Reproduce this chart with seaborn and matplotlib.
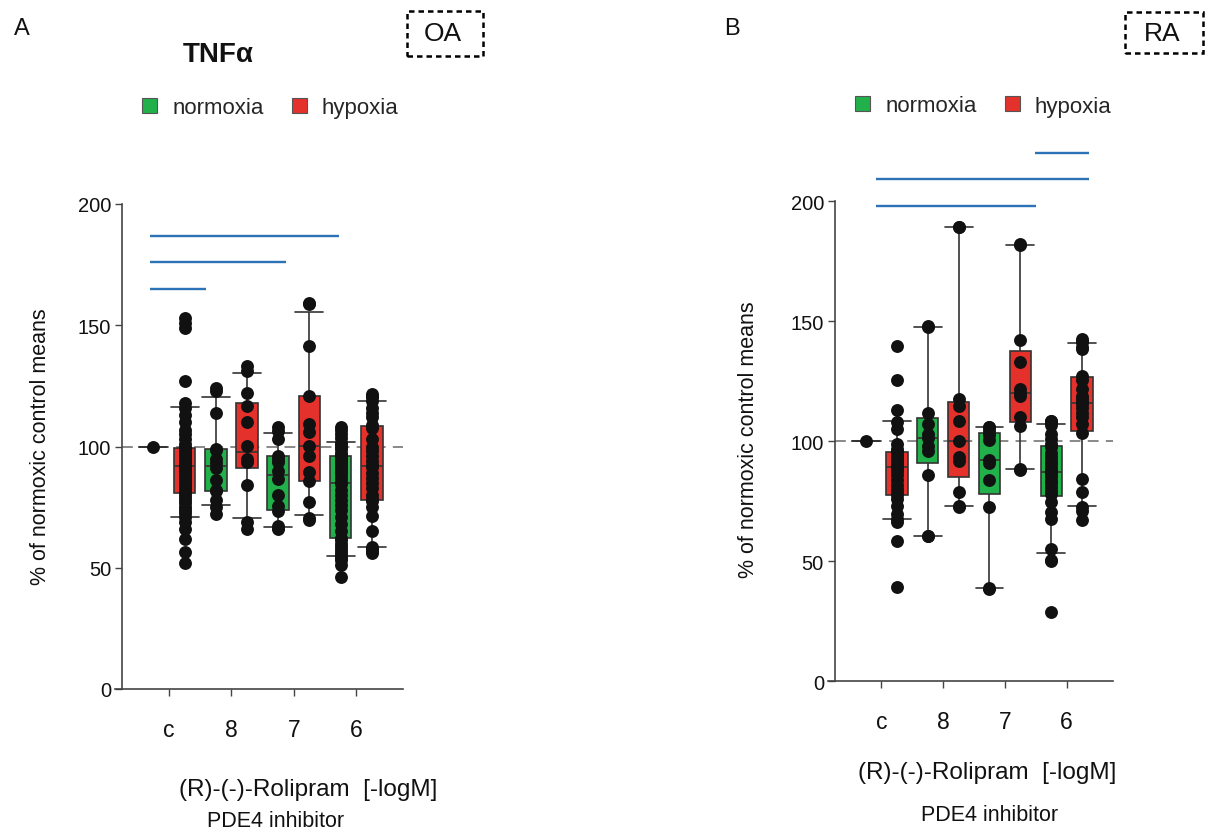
import numpy as np
import pandas as pd
import matplotlib
matplotlib.use("Agg")
import matplotlib.pyplot as plt
import seaborn as sns
from matplotlib.patches import Patch, Rectangle

# ---------------- data ----------------
group_ids = ["c-N", "c-H", "8-N", "8-H", "7-N", "7-H", "6-N", "6-H"]
group_conditions = ["normoxia", "hypoxia"] * 4
tick_labels = ["c", "8", "7", "6"]
conditions = ["normoxia", "hypoxia"]

# Panel A (OA)
oa_c_norm = [100]
oa_c_hyp = [52, 56.4, 62, 66, 69, 71, 72.5, 74, 75, 76.5, 78, 79, 80.5,
            81.5, 82.5, 83.5, 84.5, 85.5, 86.5, 87.5, 88.5, 89.5, 90.5, 91, 92,
            92, 93, 93.5, 94, 95, 95.5, 96, 97, 97.5, 98, 99, 99.5, 99.5,
            101, 103, 105, 107, 110, 113, 116, 118, 127, 149, 151, 153]
oa_8_norm = [72, 75, 78, 81.5, 82, 86, 91, 93, 95, 98.5, 99, 114, 123, 124]
oa_8_hyp = [66, 68.9, 84, 93.5, 94, 95, 100.4, 110, 116.5, 122.1, 131.3, 133.4]
oa_7_norm = [65.8, 66.5, 67.2, 73.5, 75.5, 80, 86.5, 90, 93.5, 95, 96.2, 103, 106.5, 108]
oa_7_hyp = [69.5, 70.5, 77, 85.8, 89.4, 96, 100.4, 105.9, 109.3, 120.8, 141.4, 158.9, 159.2]
oa_6_norm = [46, 51, 53, 54.2, 54.8, 56, 57.5, 58.5, 60, 61.5, 62.3, 65, 68, 71, 74,
             76, 78, 80, 82, 84.5, 85.3, 87, 88.5, 90, 91, 92, 93, 94, 95, 95.7,
             96.5, 97.5, 99, 100, 101, 101.6, 103.5, 105, 107, 108]
oa_6_hyp = [56, 57, 57.8, 58.6, 65, 71.5, 75, 77.5, 78.5, 80, 83, 85, 87, 89, 91.4,
            92.4, 94, 96, 98, 100, 103, 107.5, 108.7, 112, 114, 116, 118.6, 120.6,
            121, 121.5]
# significance bars A: (start, end, height)
oa_sig_start = [-0.1, -0.1, -0.1]
oa_sig_end = [5.95, 4.25, 1.68]
oa_sig_y = [186.9, 175.9, 164.9]

# Panel B (RA)
ra_c_norm = [100]
ra_c_hyp = [39.2, 58.6, 66.2, 67.8, 69.7, 73, 76, 77.5, 78.7, 80, 82, 84, 86, 87.5,
            89, 89.8, 90.5, 91.5, 92.5, 93.5, 94.5, 95.3, 95.8, 97, 99, 105.2,
            108.1, 113.1, 125.7, 139.9]
ra_8_norm = [60.5, 60.7, 86.1, 96, 98, 101.2, 103, 107.2, 112, 147.5, 148]
ra_8_hyp = [72.7, 72.9, 78.8, 91.8, 93.3, 100.3, 108.6, 114.8, 117.8, 189.2, 189.5]
ra_7_norm = [38.6, 38.75, 72.5, 84, 91, 92.1, 100.6, 102.5, 104.1, 105.8, 106]
ra_7_hyp = [88.1, 88.3, 106.5, 110, 119, 120.1, 121.8, 132.9, 142.1, 181.9, 182.1]
ra_6_norm = [29, 50.2, 50.4, 55, 67.6, 70.4, 74.6, 78.2, 79.5, 81, 82.5, 84, 85.5,
             86.6, 87.6, 89, 90.5, 92, 93.5, 95, 97.6, 98.8, 101, 103, 106.9, 108.2,
             108.4, 108.6]
ra_6_hyp = [67.4, 71.1, 72.5, 78.8, 84.3, 103.5, 107.1, 110, 112, 114, 115.5, 116.5,
            117.5, 119, 121.8, 125.5, 127.1, 138.5, 139.1, 141.2, 142, 142.6]
ra_sig_start = [5.48, 0.34, 0.34]
ra_sig_end = [7.22, 7.22, 5.5]
ra_sig_y = [220.1, 209.2, 198.0]

# ---------------- style ----------------
sns.set_style("ticks")
plt.rcParams["font.family"] = ["Liberation Sans", "DejaVu Sans"]

GREEN = "#22b04b"
RED = "#e5312b"
BLUE = "#2b73b6"
EDGE = "#333333"
palette = {"normoxia": GREEN, "hypoxia": RED}

W, H = 1208, 837
fig = plt.figure(figsize=(W / 100, H / 100), dpi=100)
fig.patch.set_facecolor("white")


def fbox(x0, x1, ytop, ybot):
    return [x0 / W, 1 - ybot / H, (x1 - x0) / W, (ybot - ytop) / H]


def make_df(values):
    return pd.DataFrame({
        "group": np.repeat(group_ids, [len(v) for v in values]),
        "condition": np.repeat(group_conditions, [len(v) for v in values]),
        "value": np.concatenate([np.asarray(v, float) for v in values]),
    })


def draw_panel(ax, values, sig_start, sig_end, sig_y):
    df = make_df(values)
    # 10th / 90th percentile whiskers (GraphPad style), computed from the data
    pct = {i: (np.percentile(v, 10), np.percentile(v, 90), np.median(v))
           for i, v in enumerate(values)}
    ax.plot([-1.0, 8.0], [100, 100], color="#808080", lw=1.3,
            ls=(0, (6, 4)), zorder=1.5)
    n0 = len(ax.lines)
    sns.boxplot(data=df, x="group", y="value", hue="condition", order=group_ids,
                hue_order=conditions, palette=palette, dodge=False, width=0.69,
                whis=(10, 90), showfliers=False, linecolor=EDGE, linewidth=1.2,
                saturation=1, legend=False, ax=ax)
    for ln in ax.lines[n0:]:
        x = np.asarray(ln.get_xdata(), float)
        y = np.asarray(ln.get_ydata(), float)
        if len(x) != 2:
            continue
        i = int(round(x.mean()))
        lo, hi, med = pct[i]
        if x[0] == x[1]:
            # whisker: [quartile, end]
            low = (y[1] < y[0]) or (y[1] == y[0] and y[0] <= med)
            ln.set_ydata([y[0], lo if low else hi])
        elif y[0] == y[1] and abs(x[1] - x[0]) < 0.5:
            c = x.mean()
            ln.set_xdata([c - 0.45, c + 0.45])
            yy = lo if y[0] <= med else hi
            ln.set_ydata([yy, yy])
    sns.stripplot(data=df, x="group", y="value", order=group_ids, color="#111111",
                  size=9.3, jitter=False, linewidth=0, zorder=3, ax=ax)
    for x0, x1, yy in zip(sig_start, sig_end, sig_y):
        ax.plot([x0, x1], [yy, yy], color=BLUE, lw=1.7, clip_on=False,
                solid_capstyle="butt", zorder=4)
    ax.set_xlim(-1.23, 8.0)
    ax.set_ylim(0, 200)
    ax.spines["left"].set_position(("data", -1.0))
    ax.spines[["top", "right"]].set_visible(False)
    for s in ["left", "bottom"]:
        ax.spines[s].set_color("#444444")
        ax.spines[s].set_linewidth(1.2)
    ax.set_xticks([0.5, 2.5, 4.5, 6.5])
    ax.set_xticklabels(tick_labels, fontsize=16.5)
    ax.set_yticks([0, 50, 100, 150, 200])
    ax.tick_params(axis="x", length=5, width=1, pad=16, color="#444444",
                   labelcolor="#111111")
    ax.tick_params(axis="y", length=5, width=1, pad=3, labelsize=14.5,
                   color="#444444", labelcolor="#111111")
    ax.set_xlabel("")
    ax.set_ylabel("")
    ax.set_facecolor("none")


axL = fig.add_axes(fbox(115, 403, 205, 690))
axR = fig.add_axes(fbox(828, 1113, 202.3, 682.3))

draw_panel(axL, [oa_c_norm, oa_c_hyp, oa_8_norm, oa_8_hyp, oa_7_norm, oa_7_hyp,
                 oa_6_norm, oa_6_hyp], oa_sig_start, oa_sig_end, oa_sig_y)
draw_panel(axR, [ra_c_norm, ra_c_hyp, ra_8_norm, ra_8_hyp, ra_7_norm, ra_7_hyp,
                 ra_6_norm, ra_6_hyp], ra_sig_start, ra_sig_end, ra_sig_y)

# legends
for ax, (lx, ly) in [(axL, (142, 109)), (axR, (855, 107))]:
    handles = [Patch(facecolor=GREEN, edgecolor="#555555", lw=0.8, label="normoxia"),
               Patch(facecolor=RED, edgecolor="#555555", lw=0.8, label="hypoxia")]
    ax.legend(handles=handles, ncol=2, loc="center left",
              bbox_to_anchor=(lx / W, 1 - ly / H), bbox_transform=fig.transFigure,
              frameon=False, fontsize=16, handlelength=0.68, handleheight=0.68,
              handletextpad=0.68, columnspacing=1.26, borderpad=0, borderaxespad=0)

# texts
def ftext(x, y, s, **kw):
    fig.text(x / W, 1 - y / H, s, ha="center", va="center", color="#111111", **kw)

ftext(22, 29, "A", fontsize=17)
ftext(732, 29, "B", fontsize=17)
ftext(218, 55, "TNFα", fontsize=20, fontweight="bold")
ftext(443, 34, "OA", fontsize=19)
ftext(1162, 34, "RA", fontsize=19)
for (x0, y0, x1, y1) in [(407, 12, 483, 57), (1125, 13, 1203, 54)]:
    fig.patches.append(Rectangle((x0 / W, 1 - y1 / H), (x1 - x0) / W, (y1 - y0) / H,
                                 transform=fig.transFigure, fill=False,
                                 edgecolor="black", lw=1.8, ls=(0, (2.2, 1.6))))

ftext(41, 447, "% of normoxic control means", fontsize=15.5, rotation=90)
ftext(748, 440, "% of normoxic control means", fontsize=15.5, rotation=90)
ftext(308, 790, "(R)-(-)-Rolipram  [-logM]", fontsize=17.5)
ftext(987, 773, "(R)-(-)-Rolipram  [-logM]", fontsize=17.5)
ftext(276, 822, "PDE4 inhibitor", fontsize=15.5)
ftext(990, 816, "PDE4 inhibitor", fontsize=15.5)

fig.savefig("out.png", dpi=100)
